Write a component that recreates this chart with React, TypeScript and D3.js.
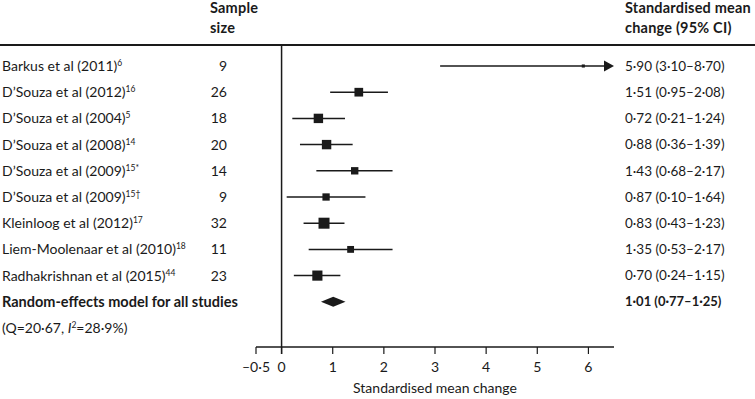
import * as d3 from 'd3'

// study rows, top to bottom
const studies = [
  'Barkus et al (2011)',
  'D’Souza et al (2012)',
  'D’Souza et al (2004)',
  'D’Souza et al (2008)',
  'D’Souza et al (2009)',
  'D’Souza et al (2009)',
  'Kleinloog et al (2012)',
  'Liem-Moolenaar et al (2010)',
  'Radhakrishnan et al (2015)',
]
const refs = ['6', '16', '5', '14', '15*', '15†', '17', '18', '44']
const sampleSize = [9, 26, 18, 20, 14, 9, 32, 11, 23]
const estimate = [5.9, 1.51, 0.72, 0.88, 1.43, 0.87, 0.83, 1.35, 0.7]
const lower = [3.1, 0.95, 0.21, 0.36, 0.68, 0.1, 0.43, 0.53, 0.24]
const upper = [8.7, 2.08, 1.24, 1.39, 2.17, 1.64, 1.23, 2.17, 1.15]
const weight = [1.5, 11.8, 13.8, 13.8, 8.5, 8.3, 18.9, 7.3, 16.1]

const pooled = { label: 'Random-effects model for all studies', est: 1.01, lo: 0.77, hi: 1.25 }
const xTicks = [-0.5, 0, 1, 2, 3, 4, 5, 6]

const W = 755
const H = 399
const font = 'Lato, "Open Sans", sans-serif'
const ink = '#1a1a1a'

function fmt(v: number) {
  return v.toFixed(2).replace('.', '·')
}
function fmtTick(v: number) {
  const s = String(Math.abs(v)).replace('.', '·')
  return v < 0 ? `–${s}` : s
}

export default function App() {
  const x = d3.scaleLinear().domain([-0.5, 6.5]).range([256, 614])
  const rowY = d3.scaleLinear().domain([0, 1]).range([66, 92.2])
  const side = d3.scaleSqrt().domain([0, 18.9]).range([0, 11])

  const axisY = 347
  const headerLineY = 45
  const [xMin, xMax] = x.domain()

  const pooledY = rowY(studies.length)
  const qY = rowY(studies.length + 1)

  return (
    <svg
      width={W}
      height={H}
      style={{ position: 'absolute', left: 0, top: 0, background: '#fff' }}
      fontFamily={font}
      fontSize={14}
      fill={ink}
    >
      {/* headers */}
      <g fontWeight="bold" fontSize={14.5} letterSpacing={0.2}>
        <text x={210} y={13}>Sample</text>
        <text x={210} y={33}>size</text>
        <text x={625} y={13}>Standardised mean</text>
        <text x={625} y={33}>change (95% CI)</text>
      </g>
      <line x1={0} x2={W} y1={headerLineY} y2={headerLineY} stroke={ink} strokeWidth={2} />

      {/* study rows */}
      {studies.map((s, i) => {
        const y = rowY(i)
        const sz = side(weight[i])
        const clipped = upper[i] > xMax
        const hiX = clipped ? x(xMax) - 10 : x(upper[i])
        return (
          <g key={i}>
            <text x={2} y={y} dy="0.35em">
              {s}
              <tspan fontSize={8.5} dy={-5}>{refs[i]}</tspan>
            </text>
            <text x={227} y={y} dy="0.35em" textAnchor="end">{sampleSize[i]}</text>
            <line x1={x(Math.max(lower[i], xMin))} x2={hiX} y1={y} y2={y} stroke={ink} strokeWidth={1.5} />
            {clipped && (
              <path d={`M${hiX},${y - 5.5}L${x(xMax)},${y}L${hiX},${y + 5.5}Z`} fill={ink} />
            )}
            <rect x={x(estimate[i]) - sz / 2} y={y - sz / 2} width={sz} height={sz} fill={ink} />
            <text x={625} y={y} dy="0.35em" fontSize={13.5}>
              {`${fmt(estimate[i])} (${fmt(lower[i])}–${fmt(upper[i])})`}
            </text>
          </g>
        )
      })}

      {/* pooled estimate */}
      <text x={2} y={pooledY} dy="0.35em" fontWeight="bold" fontSize={14.5}>{pooled.label}</text>
      <path
        d={`M${x(pooled.lo)},${pooledY}L${x(pooled.est)},${pooledY - 5}L${x(pooled.hi)},${pooledY}L${x(pooled.est)},${pooledY + 5}Z`}
        fill={ink}
      />
      <text x={625} y={pooledY} dy="0.35em" fontWeight="bold" fontSize={13}>
        {`${fmt(pooled.est)} (${fmt(pooled.lo)}–${fmt(pooled.hi)})`}
      </text>
      <text x={2} y={qY} dy="0.35em">
        (Q=20·67, <tspan fontStyle="italic">I</tspan>
        <tspan fontSize={8.5} dy={-5}>2</tspan>
        <tspan dy={5}>=28·9%)</tspan>
      </text>

      {/* zero line and axis */}
      <line x1={x(0)} x2={x(0)} y1={headerLineY} y2={axisY + 7} stroke={ink} strokeWidth={1.5} />
      <line x1={x(xMin)} x2={x(xMax)} y1={axisY} y2={axisY} stroke={ink} strokeWidth={1.5} />
      {xTicks.map(t => (
        <g key={t}>
          <line x1={x(t)} x2={x(t)} y1={axisY} y2={axisY + 7} stroke={ink} strokeWidth={1.2} />
          <text x={x(t)} y={367} dy="0.35em" textAnchor="middle">{fmtTick(t)}</text>
        </g>
      ))}
      <text x={435} y={388} dy="0.35em" textAnchor="middle">Standardised mean change</text>
    </svg>
  )
}
